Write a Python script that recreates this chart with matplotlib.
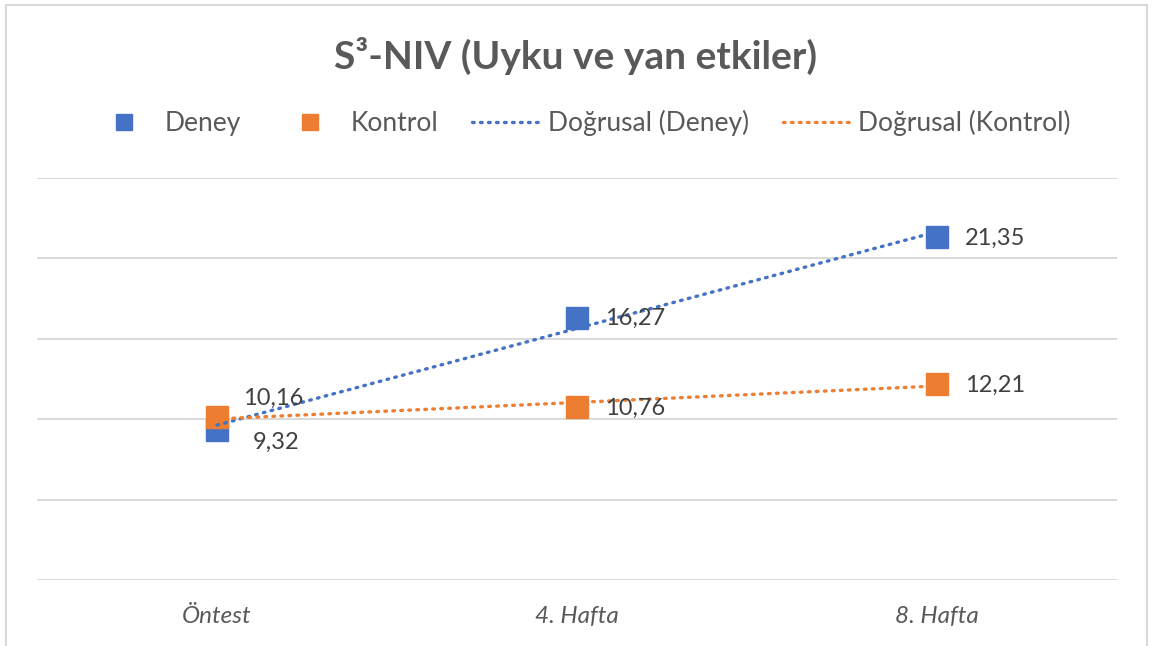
import numpy as np
import matplotlib
matplotlib.use("Agg")
import matplotlib.pyplot as plt
from matplotlib.lines import Line2D
from matplotlib.patches import Rectangle

categories = ["Öntest", "4. Hafta", "8. Hafta"]
deney = [9.32, 16.27, 21.35]
kontrol = [10.16, 10.76, 12.21]
title = "S³-NIV (Uyku ve yan etkiler)"

BLUE = "#4472C4"
ORANGE = "#ED7D31"
GRID = "#D9D9D9"
TXT = "#595959"
LBL = "#404040"

plt.rcParams["font.family"] = ["Lato", "DejaVu Sans"]

DPI = 100
fig = plt.figure(figsize=(11.52, 6.46), dpi=DPI)
W, H = 1152, 646
ax = fig.add_axes([37 / W, 1 - 580 / H, (1117 - 37) / W, (580 - 178) / H])

x = np.arange(1, len(categories) + 1)
ax.set_xlim(0.5, len(categories) + 0.5)
ax.set_ylim(0, 25)
ax.set_yticks(np.arange(0, 26, 5))
ax.yaxis.grid(True, color=GRID, linewidth=1.4)
ax.set_axisbelow(True)
for s in ax.spines.values():
    s.set_visible(False)
ax.tick_params(axis="y", left=False, labelleft=False)
ax.tick_params(axis="x", bottom=False, pad=15)
ax.set_xticks(x)
ax.set_xticklabels(categories, fontsize=17.5, style="italic", color=TXT)

ax.plot(x, deney, linestyle="none", marker="s", ms=16, color=BLUE, zorder=3)
ax.plot(x, kontrol, linestyle="none", marker="s", ms=16, color=ORANGE, zorder=4)

for vals, col in ((deney, BLUE), (kontrol, ORANGE)):
    k, b = np.polyfit(x, vals, 1)
    ax.plot(x, k * x + b, color=col, linewidth=2.4, linestyle=(0, (0.5, 1.9)),
            dash_capstyle="round", zorder=5)

def fmt(v):
    return f"{v:.2f}".replace(".", ",")

off_d = [(26, -9), (20, 0), (20, -1)]
off_k = [(19, 13), (20, -1), (20, -1)]
for i in range(len(categories)):
    ax.annotate(fmt(deney[i]), (x[i], deney[i]), xytext=off_d[i], textcoords="offset points",
                ha="left", va="center", fontsize=17, color=LBL, zorder=6)
    ax.annotate(fmt(kontrol[i]), (x[i], kontrol[i]), xytext=off_k[i], textcoords="offset points",
                ha="left", va="center", fontsize=17, color=LBL, zorder=6)

fig.text(0.5, 1 - 56 / H, title, ha="center", va="center", fontsize=28,
         fontweight="bold", color=TXT)

handles = [
    Line2D([], [], linestyle="none", marker="s", ms=12, color=BLUE),
    Line2D([], [], linestyle="none", marker="s", ms=12, color=ORANGE),
    Line2D([], [], color=BLUE, linewidth=2.4, linestyle=(0, (0.5, 1.9)), dash_capstyle="round"),
    Line2D([], [], color=ORANGE, linewidth=2.4, linestyle=(0, (0.5, 1.9)), dash_capstyle="round"),
]
labels = ["Deney", "Kontrol", "Doğrusal (Deney)", "Doğrusal (Kontrol)"]
leg = fig.legend(handles, labels, loc="center", bbox_to_anchor=(0.5 + 4 / W, 1 - 123 / H), ncol=4,
                 frameon=False, fontsize=19, handlelength=2.65, handletextpad=0.2,
                 columnspacing=1.3, labelcolor=TXT)

fig.add_artist(Rectangle((6 / W, -0.05), (1147 - 6) / W, (1 - 5 / H) + 0.05,
                         transform=fig.transFigure, fill=False, edgecolor=GRID,
                         linewidth=1.5, clip_on=False))

fig.savefig("out.png", dpi=DPI)
